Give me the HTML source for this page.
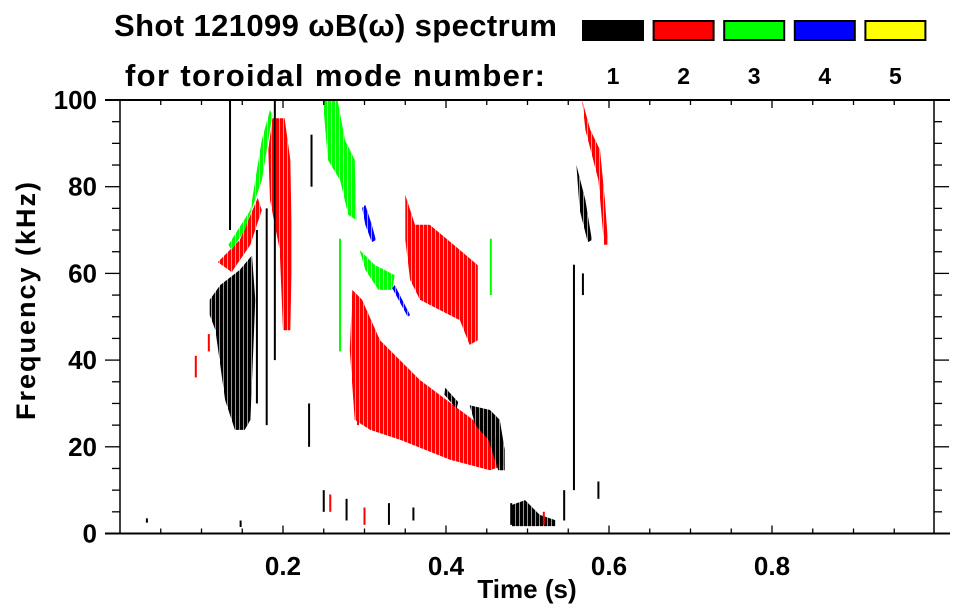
<!DOCTYPE html>
<html><head><meta charset="utf-8">
<style>
html,body{margin:0;padding:0;background:#fff;}
svg{display:block;font-family:"Liberation Sans",Arial,sans-serif;font-weight:bold;}
</style></head>
<body>
<svg id="chart" width="963" height="615" viewBox="0 0 963 615">
<defs>
 <pattern id="p1" width="4" height="6" patternUnits="userSpaceOnUse"><rect width="3.4" height="6" fill="#000"/></pattern>
 <pattern id="p2" width="4" height="6" patternUnits="userSpaceOnUse"><rect width="3.4" height="6" fill="#f00"/></pattern>
 <pattern id="p3" width="4" height="6" patternUnits="userSpaceOnUse"><rect width="3.4" height="6" fill="#0f0"/></pattern>
 <pattern id="p4" width="4" height="6" patternUnits="userSpaceOnUse"><rect width="3.4" height="6" fill="#00f"/></pattern>
 <pattern id="p5" width="4" height="6" patternUnits="userSpaceOnUse"><rect width="3.4" height="6" fill="#ff0"/></pattern>
</defs>
<text x="114" y="36" font-size="31" textLength="443">Shot 121099 ωB(ω) spectrum</text>
<text x="125" y="86" font-size="31" textLength="420">for toroidal mode number:</text>
<g id="legend"></g>
<g id="marks"></g>
<g id="axes"></g>
<text x="527" y="598" font-size="26" text-anchor="middle">Time (s)</text>
<text transform="translate(35,301) rotate(-90)" font-size="27" text-anchor="middle" textLength="238">Frequency (kHz)</text>
</svg>
<script>
const modeLabels = ["1","2","3","4","5"];
const modeColors = ["#000","#f00","#0f0","#00f","#ff0"];
const xTicks = [0.2,0.4,0.6,0.8];
const yTicks = [0,20,40,60,80,100];
// blobs: mode, polygon vertices as [time s, freq kHz]
const blobModes = [1,2,2,3,3,3,4,4,2,2,1,1,1,1,2];
const blobPoints = [
 [[0.110,53.9],[0.123,57.3],[0.147,60.8],[0.162,64.2],[0.166,53.9],[0.160,26.2],[0.153,23.9],[0.141,23.9],[0.129,30.8],[0.117,46.9],[0.110,50.4]],
 [[0.120,62.6],[0.147,67.7],[0.169,77.4],[0.174,74.6],[0.160,66.6],[0.137,60.3]],
 [[0.182,88.5],[0.187,95.8],[0.202,95.8],[0.209,86.2],[0.211,65.4],[0.209,46.9],[0.200,46.9],[0.196,65.4],[0.184,76.9]],
 [[0.133,66.6],[0.160,74.6],[0.174,90.8],[0.184,97.7],[0.187,96.5],[0.174,81.5],[0.153,70.0],[0.137,65.4]],
 [[0.249,100],[0.267,100],[0.276,90.8],[0.288,86.2],[0.290,72.3],[0.280,73.5],[0.270,81.5],[0.255,86.2]],
 [[0.294,65.4],[0.313,61.9],[0.337,59.6],[0.334,56.2],[0.317,56.2],[0.301,60.8]],
 [[0.301,75.8],[0.309,71.2],[0.314,67.7],[0.309,67.2],[0.301,71.2],[0.297,75.1]],
 [[0.337,57.3],[0.356,50.4],[0.353,50.0],[0.334,56.6]],
 [[0.285,56.2],[0.297,53.9],[0.319,44.6],[0.368,35.4],[0.417,28.5],[0.466,21.6],[0.472,15.8],[0.454,14.6],[0.405,17.0],[0.344,21.6],[0.307,23.9],[0.288,26.2],[0.282,42.3]],
 [[0.350,78.1],[0.362,71.2],[0.380,71.2],[0.417,65.4],[0.439,61.9],[0.439,44.6],[0.429,43.5],[0.417,49.2],[0.393,51.5],[0.368,53.9],[0.356,58.5],[0.350,67.7]],
 [[0.429,29.6],[0.454,28.5],[0.466,26.2],[0.472,19.3],[0.472,14.6],[0.464,14.6],[0.452,21.6],[0.436,25.0]],
 [[0.399,33.6],[0.415,30.3],[0.413,28.8],[0.398,32.0]],
 [[0.481,6.6],[0.497,7.7],[0.515,4.3],[0.534,3.1],[0.534,1.7],[0.481,1.7]],
 [[0.560,85.0],[0.571,76.9],[0.579,67.7],[0.574,67.2],[0.564,74.6]],
 [[0.567,100],[0.577,93.1],[0.589,88.5],[0.595,76.9],[0.599,66.6],[0.594,66.6],[0.587,81.5],[0.571,93.1]]
];
// streaks: time, freq low, freq high, mode
const streakT = [0.093,0.109,0.168,0.180,0.190,0.232,0.270,0.292,0.557,0.568,0.587,0.033,0.148,0.135,0.235,0.250,0.258,0.278,0.300,0.330,0.360,0.520,0.455,0.480,0.545];
const streakF0 = [36,42,30,25,40,20,42,25,10,55,8,2.5,1.5,70,80,5,5,3,2,2,3,2,55,2,3];
const streakF1 = [41,46,70,75,100,30,68,43,62,60,12,3.5,3,100,92,10,9,8,6,7,6,5,68,7,10];
const streakMode = [2,2,1,1,1,1,3,2,1,1,1,1,1,1,1,1,2,1,2,1,1,2,3,1,1];
const X0=120,XW=815,YB=533.5,YH=433.5;
const xs=t=>X0+t/1.0*XW, ys=f=>YB-f/100*YH;
const NS="http://www.w3.org/2000/svg";
function mk(tag,attrs,parent){const e=document.createElementNS(NS,tag);for(const k in attrs)e.setAttribute(k,attrs[k]);parent.appendChild(e);return e;}
const marks=document.getElementById('marks'), axes=document.getElementById('axes'), legend=document.getElementById('legend');
blobPoints.forEach((pts,i)=>{
 const p=mk('polygon',{points:pts.map(q=>xs(q[0]).toFixed(1)+','+ys(q[1]).toFixed(1)).join(' '),fill:'url(#p'+blobModes[i]+')'},marks);
 
 
});
streakT.forEach((t,i)=>{
 const r=mk('rect',{x:xs(t)-1,y:ys(streakF1[i]),width:2,height:ys(streakF0[i])-ys(streakF1[i]),fill:modeColors[streakMode[i]-1]},marks);
 
 
});
// legend
modeLabels.forEach((m,i)=>{
 const x=582+i*70.6;
 const r=mk('rect',{x:x+1,y:21,width:60,height:19,fill:modeColors[i],stroke:'#000','stroke-width':2},legend);
 
 
 const t=mk('text',{x:x+31,y:84,'font-size':23,'text-anchor':'middle'},legend);t.textContent=m;
 
 
});
// axes frame
mk('line',{x1:105,y1:100,x2:950,y2:100,stroke:'#000','stroke-width':2},axes);
mk('line',{x1:105,y1:YB,x2:950,y2:YB,stroke:'#000','stroke-width':2},axes);
mk('line',{x1:X0,y1:100,x2:X0,y2:YB,stroke:'#000','stroke-width':1.5},axes);
mk('line',{x1:934,y1:100,x2:934,y2:YB,stroke:'#000','stroke-width':1.5},axes);
for(let k=1;k<20;k++){const t=k*0.05,x=xs(t),maj=(k%4===0);const L=maj?8:5;
 mk('line',{x1:x,y1:YB,x2:x,y2:YB-L,stroke:'#000','stroke-width':1.3},axes);
 mk('line',{x1:x,y1:100,x2:x,y2:100+L,stroke:'#000','stroke-width':1.3},axes);}
for(let k=1;k<20;k++){const y=ys(k*5),maj=(k%4===0);const L=maj?15:8;
 mk('line',{x1:X0-L,y1:y,x2:X0,y2:y,stroke:'#000','stroke-width':1.3},axes);
 mk('line',{x1:934,y1:y,x2:934+L,y2:y,stroke:'#000','stroke-width':1.3},axes);}
xTicks.forEach(v=>{const t=mk('text',{x:xs(v),y:575,'font-size':26,'text-anchor':'middle'},axes);t.textContent=v.toFixed(1);
 
 });
yTicks.forEach(v=>{const t=mk('text',{x:97,y:ys(v)+9,'font-size':26,'text-anchor':'end'},axes);t.textContent=v;
 
 });
</script>
</body></html>
